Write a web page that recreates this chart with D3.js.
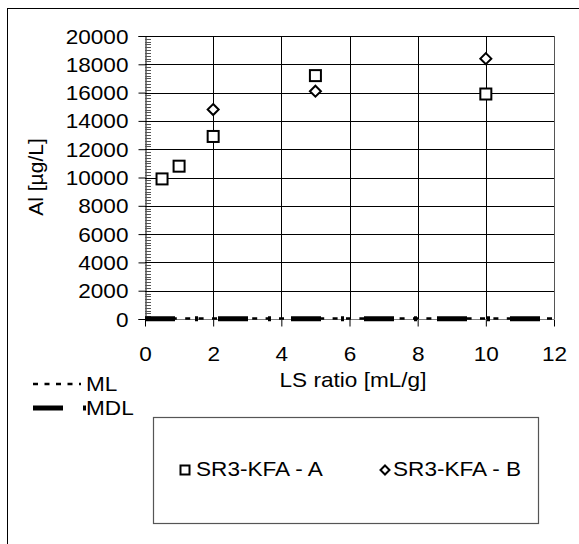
<!DOCTYPE html>
<html><head><meta charset="utf-8">
<script src="https://cdn.jsdelivr.net/npm/d3@7"></script>
<style>body{margin:0;background:#fff}svg{display:block}text{font-family:"Liberation Sans",Arial,sans-serif;fill:#000}</style>
</head><body><svg id="c" width="579" height="544"></svg>
<script>
// ---- data ----
const seriesA_x = [0.5, 1, 2, 5, 10];
const seriesA_y = [9900, 10800, 12900, 17200, 15900];
const seriesB_x = [2, 5, 10];
const seriesB_y = [14800, 16100, 18400];
const xTicks = [0, 2, 4, 6, 8, 10, 12];
const yTicks = [0, 2000, 4000, 6000, 8000, 10000, 12000, 14000, 16000, 18000, 20000];
const mlValue = [30];
const mdlValue = [10];
const seriesNames = ["SR3-KFA - A", "SR3-KFA - B"];
const lineNames = ["ML", "MDL"];

const svg = d3.select("#c");
const SX = 1.13, FS = 20;
const L = 145, R = 554, T = 36, B = 319;
const x = d3.scaleLinear().domain([0, 12]).range([L, R]);
const y = d3.scaleLinear().domain([0, 20000]).range([B, T]);

function txt(g, s, tx, ty, anchor) {
  g.append("text").attr("transform", `translate(${tx},${ty}) scale(${SX},1)`)
    .attr("text-anchor", anchor || "start").attr("font-size", FS).text(s);
}

// outer border
svg.append("rect").attr("x", 7.5).attr("y", 8.5).attr("width", 700).attr("height", 700)
  .attr("fill", "none").attr("stroke", "#000").attr("stroke-width", 1);

// grid
const grid = svg.append("g");
grid.selectAll("line.h").data(yTicks).join("line")
  .attr("x1", L).attr("x2", R)
  .attr("y1", d => Math.round(y(d)) + 0.5).attr("y2", d => Math.round(y(d)) + 0.5)
  .attr("stroke", d => d === 0 ? "#808080" : "#000").attr("stroke-width", 1);
grid.selectAll("line.v").data(xTicks.filter(d => d > 0)).join("line")
  .attr("x1", d => Math.round(x(d)) + 0.5).attr("x2", d => Math.round(x(d)) + 0.5)
  .attr("y1", T).attr("y2", B)
  .attr("stroke", d => d === 12 ? "#555" : "#000").attr("stroke-width", 1);

// y axis
const yAxis = d3.axisLeft(y).tickValues(yTicks).tickSize(7).tickPadding(10).tickFormat(d3.format("d"));
const ya = svg.append("g").attr("transform", `translate(${L + 0.5},0)`).call(yAxis);
ya.select(".domain").attr("stroke", "#000");
ya.selectAll(".tick line").attr("stroke", "#000");
ya.selectAll(".tick text").remove();
ya.selectAll(".tick").each(function (d) {
  txt(d3.select(this), d3.format("d")(d), -17, 7, "end");
});
// minor ticks
const minor = d3.range(0, 20001, 200).filter(v => v % 2000 !== 0);
svg.append("g").selectAll("line").data(minor).join("line")
  .attr("x1", L).attr("x2", L + 6)
  .attr("y1", d => Math.round(y(d)) + 0.5).attr("y2", d => Math.round(y(d)) + 0.5)
  .attr("stroke", "#555").attr("stroke-width", 1);

// x axis
const xAxis = d3.axisBottom(x).tickValues(xTicks).tickSize(7).tickPadding(0);
const xa = svg.append("g").attr("transform", `translate(0,${B + 0.5})`).call(xAxis);
xa.select(".domain").remove();
xa.selectAll(".tick line").attr("stroke", "#000");
xa.selectAll(".tick text").remove();
xa.selectAll(".tick").each(function (d) {
  txt(d3.select(this), String(d), 0, 41, "middle");
});

// titles
txt(svg, "LS ratio [mL/g]", 353, 387, "middle");
svg.append("text").attr("transform", "translate(43,177) rotate(-90)")
  .attr("text-anchor", "middle").attr("font-size", 21).text("Al [µg/L]");

// ML / MDL lines
const lineGen = d3.line().x(d => x(d[0])).y(d => y(d[1]));
svg.append("path").datum([[0, mdlValue[0]], [12, mdlValue[0]]]).attr("d", lineGen)
  .attr("fill", "none").attr("stroke", "#000").attr("stroke-width", 5).attr("stroke-dasharray", "30,20,3,20");
svg.append("path").datum([[0, mlValue[0]], [12, mlValue[0]]]).attr("d", lineGen)
  .attr("fill", "none").attr("stroke", "#000").attr("stroke-width", 2.5).attr("stroke-dasharray", "5,8.4");

// markers
const sq = 11;
svg.append("g").selectAll("rect").data(seriesA_x.map((v, i) => [v, seriesA_y[i]])).join("rect")
  .attr("x", d => x(d[0]) - sq / 2).attr("y", d => y(d[1]) - sq / 2)
  .attr("width", sq).attr("height", sq)
  .attr("fill", "#fff").attr("stroke", "#000").attr("stroke-width", 2);
const dm = 5.5;
svg.append("g").selectAll("path").data(seriesB_x.map((v, i) => [v, seriesB_y[i]])).join("path")
  .attr("d", d => { const cx = x(d[0]), cy = y(d[1]);
    return `M${cx},${cy - dm}L${cx + dm},${cy}L${cx},${cy + dm}L${cx - dm},${cy}Z`; })
  .attr("fill", "#fff").attr("stroke", "#000").attr("stroke-width", 2);

// legend for lines (lower left)
svg.append("line").attr("x1", 33).attr("x2", 81).attr("y1", 384).attr("y2", 384)
  .attr("stroke", "#000").attr("stroke-width", 2.5).attr("stroke-dasharray", "5,6.5");
txt(svg, lineNames[0], 86, 391, "start");
svg.append("line").attr("x1", 33).attr("x2", 86).attr("y1", 408).attr("y2", 408)
  .attr("stroke", "#000").attr("stroke-width", 5).attr("stroke-dasharray", "30,20,3,20");
txt(svg, lineNames[1], 86, 415, "start");

// series legend box
svg.append("rect").attr("x", 153.5).attr("y", 417.5).attr("width", 385).attr("height", 106)
  .attr("fill", "#fff").attr("stroke", "#555").attr("stroke-width", 1.2);
svg.append("rect").attr("x", 180.5).attr("y", 465.5).attr("width", 9).attr("height", 9)
  .attr("fill", "#fff").attr("stroke", "#000").attr("stroke-width", 2);
txt(svg, seriesNames[0], 196, 476, "start");
const lx = 385, ly = 470, ld = 4.5;
svg.append("path").attr("d", `M${lx},${ly - ld}L${lx + ld},${ly}L${lx},${ly + ld}L${lx - ld},${ly}Z`)
  .attr("fill", "#fff").attr("stroke", "#000").attr("stroke-width", 2);
txt(svg, seriesNames[1], 393, 476, "start");
</script></body></html>
